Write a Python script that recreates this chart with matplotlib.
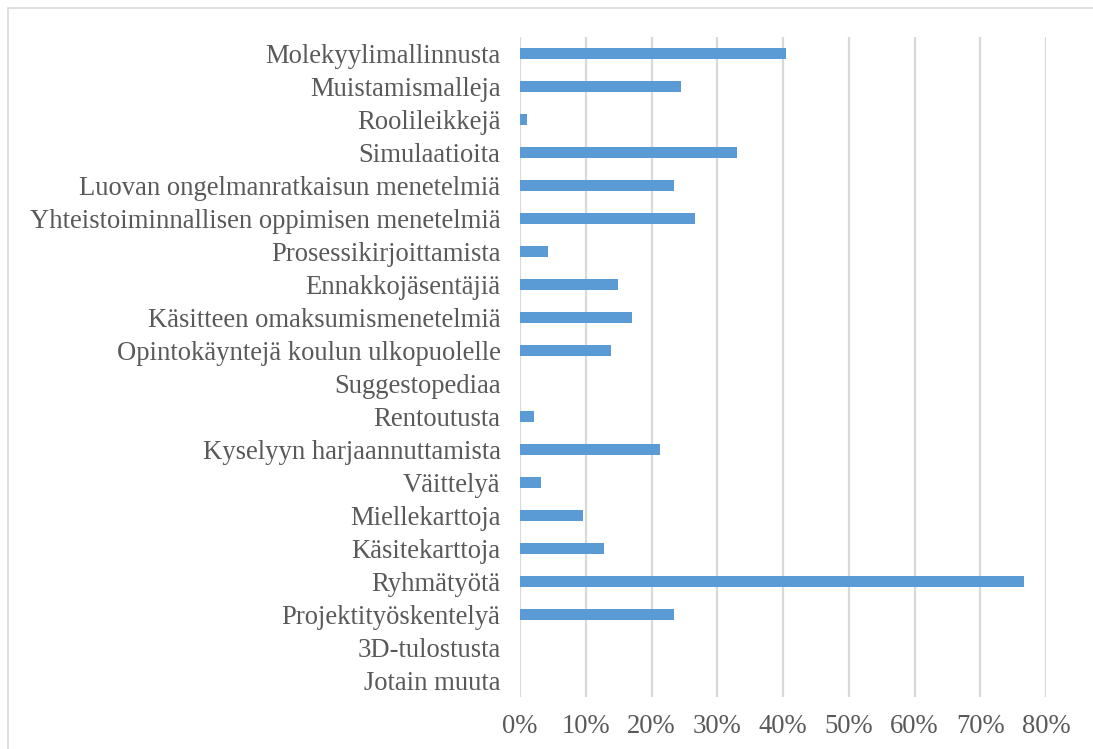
import matplotlib
matplotlib.use("Agg")
import matplotlib.pyplot as plt
from matplotlib.ticker import FuncFormatter, MultipleLocator
from matplotlib.patches import Rectangle

categories = [
    "Molekyylimallinnusta",
    "Muistamismalleja",
    "Roolileikkejä",
    "Simulaatioita",
    "Luovan ongelmanratkaisun menetelmiä",
    "Yhteistoiminnallisen oppimisen menetelmiä",
    "Prosessikirjoittamista",
    "Ennakkojäsentäjiä",
    "Käsitteen omaksumismenetelmiä",
    "Opintokäyntejä koulun ulkopuolelle",
    "Suggestopediaa",
    "Rentoutusta",
    "Kyselyyn harjaannuttamista",
    "Väittelyä",
    "Miellekarttoja",
    "Käsitekarttoja",
    "Ryhmätyötä",
    "Projektityöskentelyä",
    "3D-tulostusta",
    "Jotain muuta",
]
values = [40.4, 24.5, 1.1, 33.0, 23.4, 26.6, 4.3, 14.9, 17.0, 13.8,
          0.0, 2.1, 21.3, 3.2, 9.6, 12.8, 76.6, 23.4, 0.0, 0.0]

W, H = 1093, 749
fig = plt.figure(figsize=(W / 100, H / 100), dpi=100)
fig.patch.set_facecolor("white")

# chart border (top and left visible)
fig.add_artist(Rectangle((8 / W, -0.1), 1.2, (H - 8) / H + 0.1,
                         transform=fig.transFigure, fill=False,
                         edgecolor="#d9d9d9", linewidth=1.2))

left, right = 520 / W, 1046 / W
top, bottom = 1 - 37 / H, 1 - 697 / H
ax = fig.add_axes([left, bottom, right - left, top - bottom])

n = len(categories)
ypos = list(range(n))
ax.barh(ypos, values, height=0.36, color="#5b9bd5", zorder=3)
ax.set_ylim(n - 0.5, -0.5)
ax.set_xlim(0, 80)
ax.xaxis.set_major_locator(MultipleLocator(10))
ax.xaxis.set_major_formatter(FuncFormatter(lambda v, p: f"{int(round(v))}%"))
ax.set_yticks(ypos)
ax.set_yticklabels(categories)
ax.grid(axis="x", color="#d9d9d9", linewidth=1.6, zorder=0)
for s in ax.spines.values():
    s.set_visible(False)
ax.tick_params(axis="both", length=0, colors="#595959")
ax.tick_params(axis="y", pad=14)
ax.tick_params(axis="x", pad=12)
for lab in ax.get_yticklabels() + ax.get_xticklabels():
    lab.set_fontfamily("Liberation Serif")
    lab.set_fontsize(19.2)
    lab.set_color("#595959")

fig.savefig("out.png", dpi=100)
